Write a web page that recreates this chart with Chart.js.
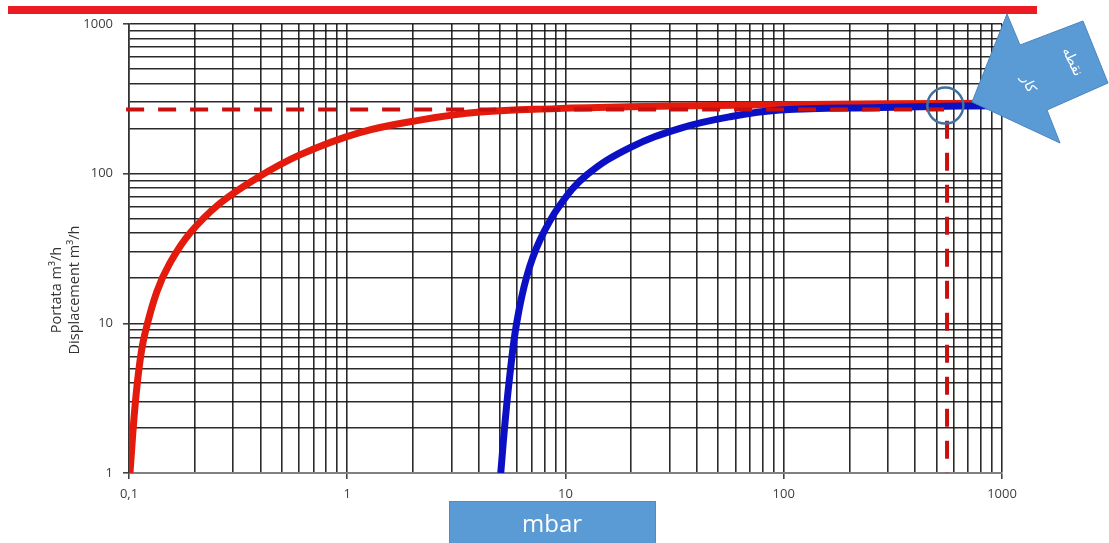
<!DOCTYPE html>
<html lang="it">
<head>
  <meta charset="UTF-8">
  <title>Portata / Displacement - mbar</title>
  <script src="https://cdn.jsdelivr.net/npm/chart.js"></script>
  <style>
    html, body { margin: 0; background: #fff; }
    .wrap { width: 1109px; height: 543px; }
  </style>
</head>
<body>
  <div class="wrap"><canvas id="pumpChart" width="1109" height="543"></canvas></div>

  <script>
    // curva rossa (pressione -> portata)
    const redX = [0.101, 0.1065, 0.112, 0.118, 0.134, 0.154, 0.19, 0.26, 0.385, 0.61, 1.14, 2.15, 4.06, 9, 19.7, 50, 96, 300, 1000];
    const redY = [1, 2.77, 5.43, 8.4, 16.2, 25.3, 40, 63.1, 93.5, 134, 188, 228, 258, 272, 280, 285, 289, 293, 295];

    // curva blu
    const blueX = [5.05, 5.28, 5.57, 5.97, 6.64, 7.64, 9.44, 12.5, 19.75, 33.5, 56.7, 96, 276, 642, 880];
    const blueY = [1, 2.15, 4.63, 10, 20.5, 36, 61.7, 97.9, 149.4, 201, 240, 266, 277, 283, 284];

    // punto di lavoro
    const workX = 560;
    const workY = 268;
    const circleX = 550;
    const circleY = 285;

    const xMajorTicks = [0.1, 1, 10, 100, 1000];
    const xMajorLabels = ['0,1', '1', '10', '100', '1000'];
    const yMajorTicks = [1, 10, 100, 1000];
    const yMajorLabels = ['1', '10', '100', '1000'];

    const yTitleLines = ['Portata m\u00b3/h', 'Displacement m\u00b3/h'];
    const xTitle = 'mbar';
    const arrowWords = ['نقطه', 'کار'];

    // 1..9 per decade, like the printed log paper
    function logGrid(fromExp, toExp) {
      const v = [];
      for (let e = fromExp; e < toExp; e++) {
        for (let m = 1; m < 10; m++) v.push(Number((m * Math.pow(10, e)).toPrecision(6)));
      }
      v.push(Math.pow(10, toExp));
      return v;
    }
    const xGrid = logGrid(-1, 3);
    const yGrid = logGrid(0, 3);

    const toPoints = (xs, ys) => xs.map((x, i) => ({ x: x, y: ys[i] }));

    const decorations = {
      id: 'decorations',
      afterDraw(chart) {
        const c = chart.ctx;
        c.save();

        // barra rossa in alto
        c.fillStyle = '#ec1c24';
        c.fillRect(8, 6, 1029, 8);

        // titolo asse y (due righe)
        c.fillStyle = '#333';
        c.font = '14.5px "Open Sans", sans-serif';
        c.textAlign = 'center';
        c.textBaseline = 'middle';
        c.translate(57, 290);
        c.rotate(-Math.PI / 2);
        c.fillText(yTitleLines[0], 0, 0);
        c.fillText(yTitleLines[1], 0, 18);
        c.setTransform(1, 0, 0, 1, 0, 0);

        // box "mbar"
        c.fillStyle = '#5b9bd5';
        c.fillRect(449, 501, 207, 45);
        c.strokeStyle = '#4f8cc4';
        c.lineWidth = 1;
        c.strokeRect(449.5, 501.5, 206, 45);
        c.fillStyle = '#fff';
        c.font = '24px "Open Sans", sans-serif';
        c.fillText(xTitle, 552, 525);

        // freccia
        const pts = [[972, 102], [1007, 14], [1020, 45], [1083, 21], [1108, 83], [1047, 110], [1060, 143]];
        c.beginPath();
        pts.forEach((p, i) => i ? c.lineTo(p[0], p[1]) : c.moveTo(p[0], p[1]));
        c.closePath();
        c.fillStyle = '#5b9bd5';
        c.fill();
        c.strokeStyle = '#4a85bd';
        c.lineWidth = 1;
        c.stroke();

        c.fillStyle = '#fff';
        c.font = '14px "DejaVu Sans", sans-serif';
        c.direction = 'rtl';
        [[1072, 62], [1028, 84]].forEach((p, i) => {
          c.setTransform(1, 0, 0, 1, p[0], p[1]);
          c.rotate(65 * Math.PI / 180);
          c.fillText(arrowWords[i], 0, 0);
        });
        c.restore();
      }
    };

    const isIn = (list, v) => list.some(t => Math.abs(t - v) < 1e-9 * Math.max(1, v));
    const labelFor = (list, labels, v) => {
      const i = list.findIndex(t => Math.abs(t - v) < 1e-9 * Math.max(1, v));
      return i >= 0 ? labels[i] : '';
    };

    new Chart(document.getElementById('pumpChart'), {
      type: 'line',
      data: {
        datasets: [
          {
            data: [{ x: circleX, y: circleY }],
            showLine: false,
            pointRadius: 18,
            pointBorderWidth: 2.5,
            pointBorderColor: '#41719c',
            pointBackgroundColor: 'rgba(0,0,0,0)',
            order: 0,
            clip: false
          },
          {
            data: [{ x: 0.097, y: workY }, { x: workX, y: workY }, { x: workX, y: 1 }],
            borderColor: '#c8100e',
            borderWidth: 4,
            borderDash: [18, 14],
            pointRadius: 0,
            tension: 0,
            order: 1,
            clip: false
          },
          {
            data: toPoints(blueX, blueY),
            borderColor: '#0b10c4',
            borderWidth: 7,
            pointRadius: 0,
            tension: 0.4,
            borderCapStyle: 'butt',
            order: 2
          },
          {
            data: toPoints(redX, redY),
            borderColor: '#e31a0c',
            borderWidth: 7,
            pointRadius: 0,
            tension: 0.4,
            borderCapStyle: 'butt',
            order: 3
          }
        ]
      },
      options: {
        responsive: false,
        animation: false,
        layout: { padding: { top: 24, right: 107, left: 0, bottom: 0 } },
        plugins: {
          legend: { display: false },
          tooltip: { enabled: false }
        },
        scales: {
          x: {
            type: 'logarithmic',
            min: 0.1,
            max: 1000,
            afterBuildTicks: s => { s.ticks = xGrid.map(v => ({ value: v })); },
            afterFit: s => { s.height = 70; },
            grid: {
              color: 'rgba(20,20,20,0.9)',
              lineWidth: 1.6,
              tickLength: 6,
              tickColor: ctx => ctx.tick && isIn(xMajorTicks, ctx.tick.value) ? '#444' : 'rgba(0,0,0,0)'
            },
            border: { color: '#808080', width: 2 },
            ticks: {
              autoSkip: false,
              maxRotation: 0,
              padding: 7,
              color: '#404040',
              font: { family: '"Open Sans", sans-serif', size: 13 },
              callback: value => labelFor(xMajorTicks, xMajorLabels, value)
            }
          },
          y: {
            type: 'logarithmic',
            min: 1,
            max: 1000,
            afterBuildTicks: s => { s.ticks = yGrid.map(v => ({ value: v })); },
            afterFit: s => { s.width = 129; },
            grid: {
              color: 'rgba(20,20,20,0.9)',
              lineWidth: 1.6,
              tickLength: 6,
              tickColor: ctx => ctx.tick && isIn(yMajorTicks, ctx.tick.value) ? '#444' : 'rgba(0,0,0,0)'
            },
            border: { color: '#333', width: 1.5 },
            ticks: {
              autoSkip: false,
              padding: 10,
              color: '#404040',
              font: { family: '"Open Sans", sans-serif', size: 13 },
              callback: value => labelFor(yMajorTicks, yMajorLabels, value)
            }
          }
        }
      },
      plugins: [decorations]
    });
  </script>
</body>
</html>
